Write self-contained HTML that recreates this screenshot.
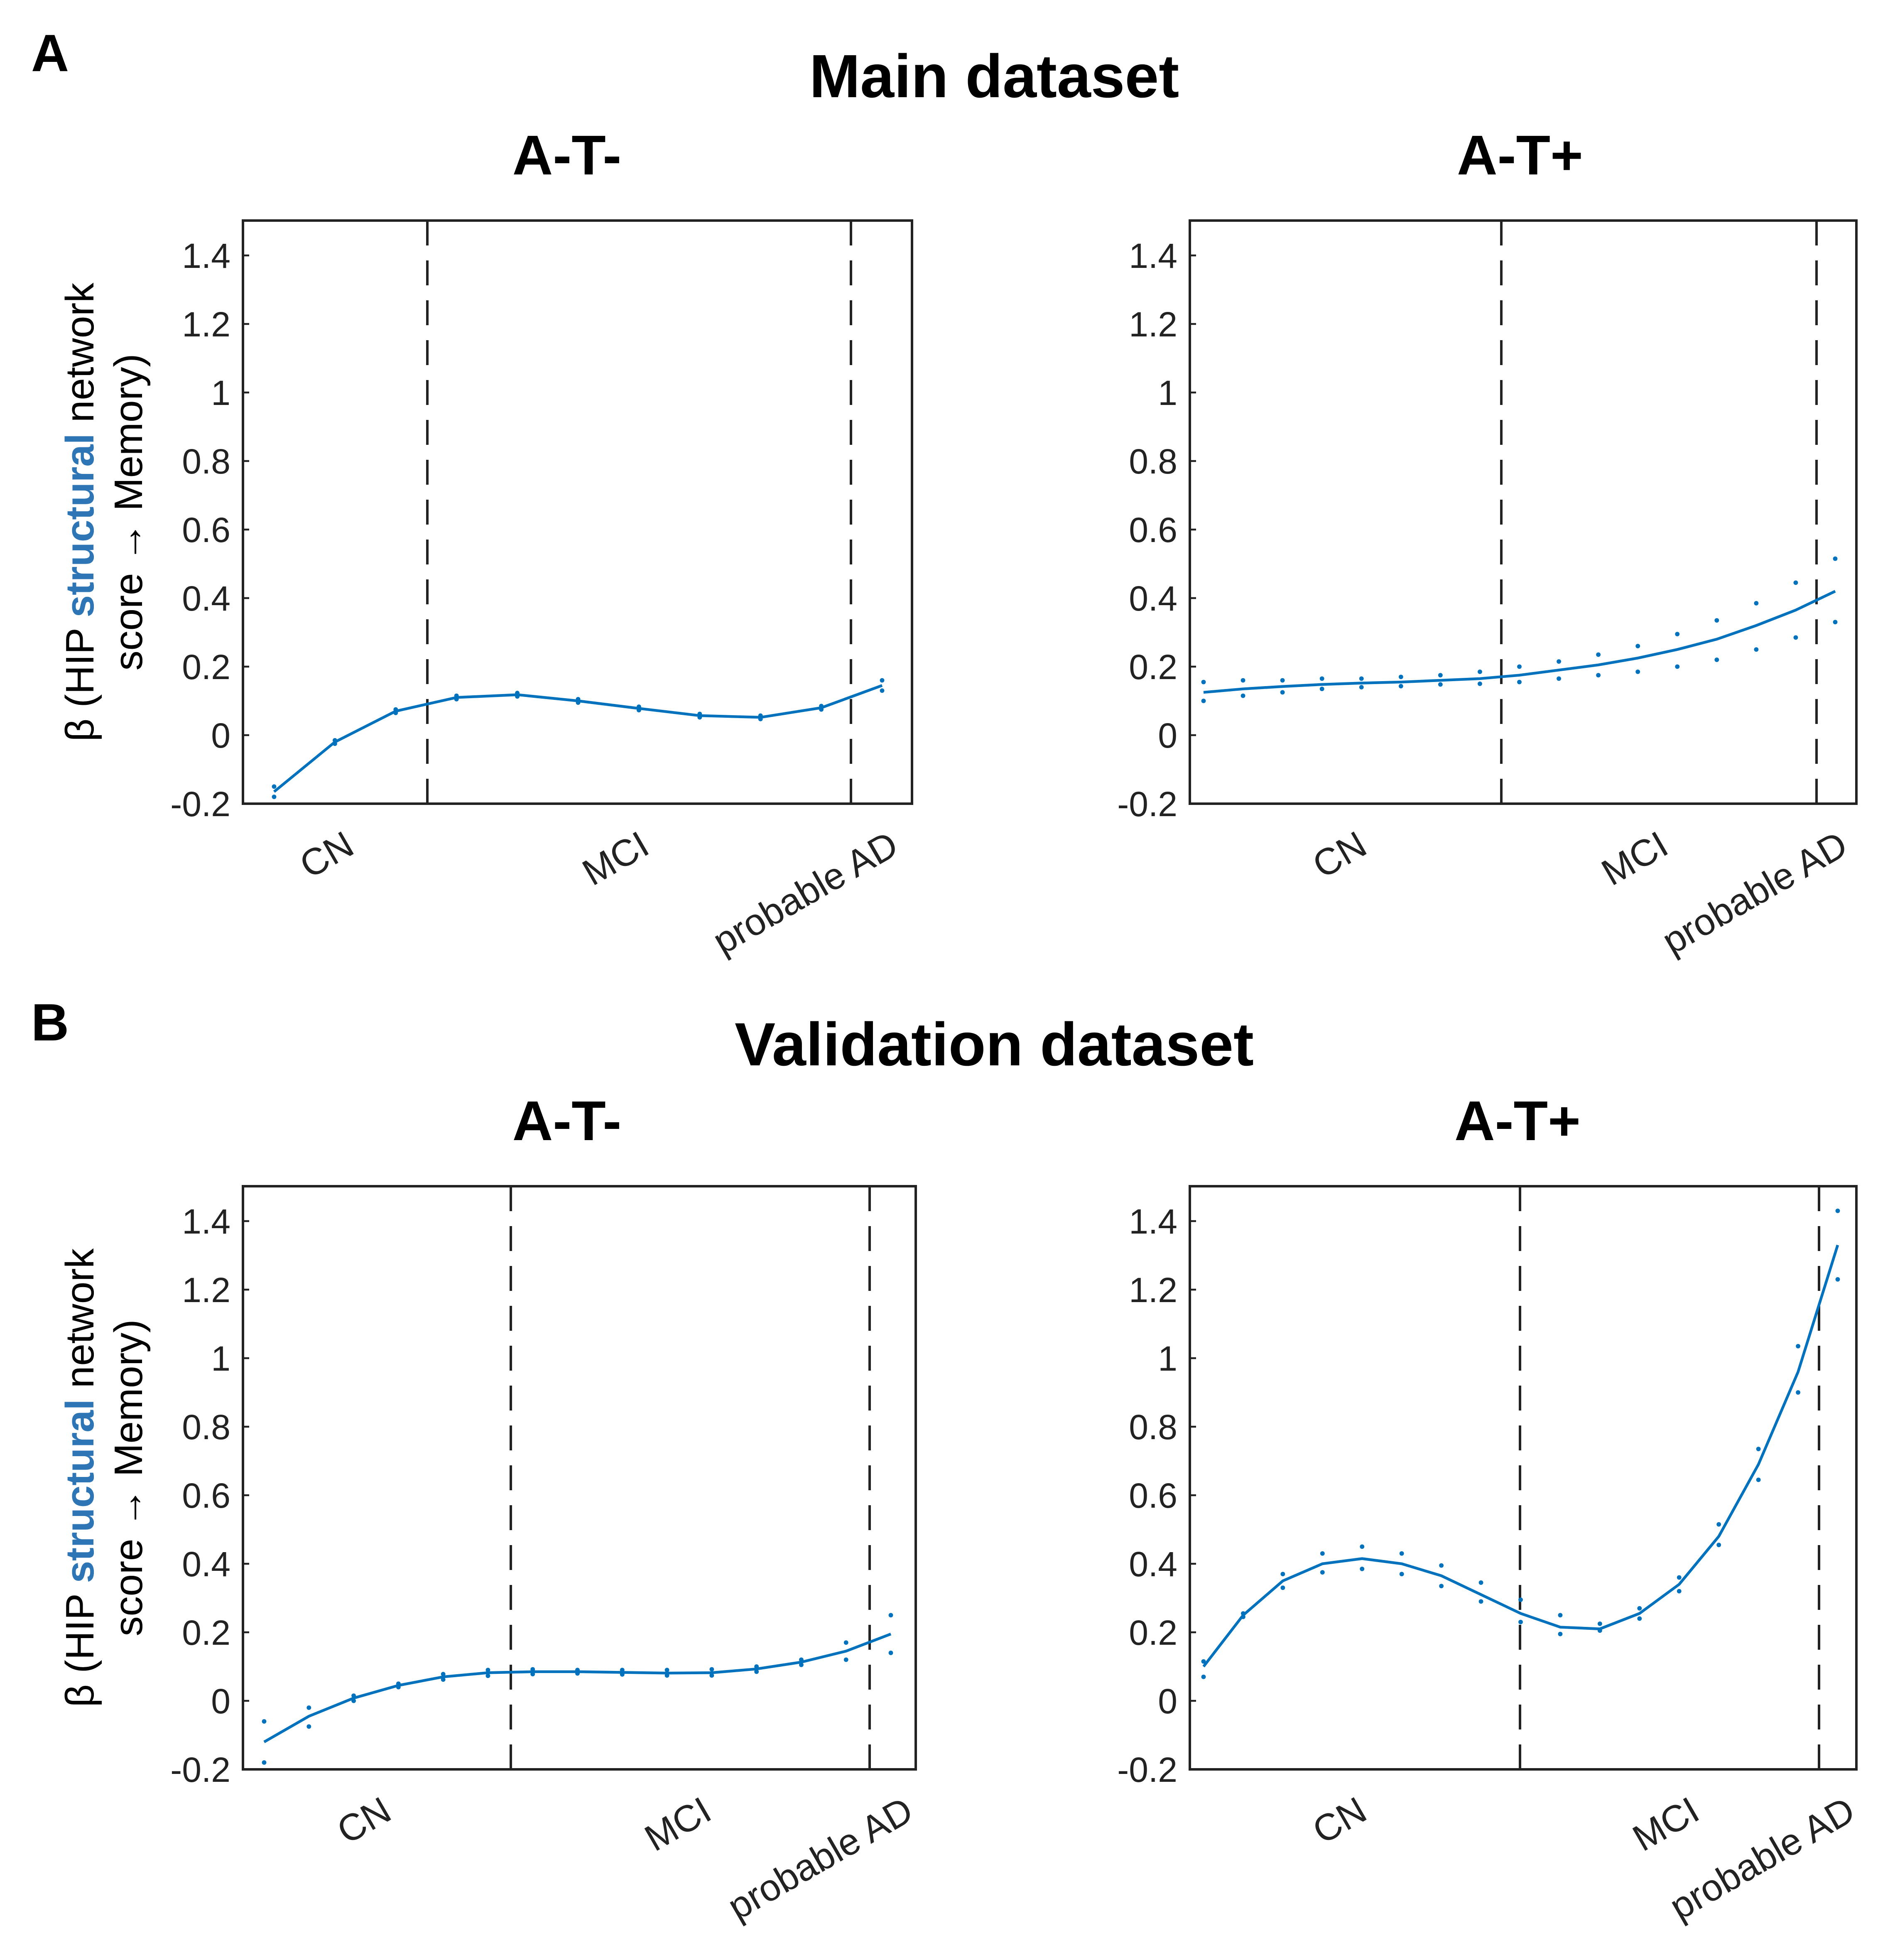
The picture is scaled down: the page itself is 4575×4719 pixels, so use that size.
<!DOCTYPE html>
<html><head><meta charset="utf-8"><style>
html,body{margin:0;padding:0;background:#fff;}
svg{display:block;font-family:"Liberation Sans",Arial,sans-serif;}
</style></head><body>
<svg id="fig" width="4575" height="4719" viewBox="0 0 1525 1573" xmlns="http://www.w3.org/2000/svg">
<text x="25" y="57" font-size="42" font-weight="bold">A</text>
<text x="798" y="78" font-size="49" font-weight="bold" text-anchor="middle">Main dataset</text>
<text x="25" y="835" font-size="42" font-weight="bold">B</text>
<text x="798" y="855" font-size="49" font-weight="bold" text-anchor="middle">Validation dataset</text>
</svg>
<script>
const yTicks=[-0.2,0,0.2,0.4,0.6,0.8,1,1.2,1.4];
const yTickLabels=["-0.2","0","0.2","0.4","0.6","0.8","1","1.2","1.4"];
const xCats=["CN","MCI","probable AD"];
// Panel 1: Main A-T-
const p1Line=[-0.165,-0.02,0.07,0.11,0.118,0.10,0.078,0.057,0.052,0.08,0.145];
const p1Up=[-0.15,-0.015,0.075,0.115,0.123,0.105,0.083,0.062,0.057,0.085,0.16];
const p1Lo=[-0.18,-0.025,0.065,0.105,0.113,0.095,0.073,0.052,0.047,0.075,0.13];
// Panel 2: Main A-T+
const p2Line=[0.125,0.135,0.142,0.148,0.152,0.155,0.16,0.165,0.175,0.19,0.205,0.225,0.25,0.28,0.32,0.365,0.42];
const p2Up=[0.155,0.16,0.16,0.165,0.165,0.17,0.175,0.185,0.2,0.215,0.235,0.26,0.295,0.335,0.385,0.445,0.515];
const p2Lo=[0.1,0.115,0.125,0.135,0.14,0.143,0.148,0.15,0.155,0.165,0.175,0.185,0.2,0.22,0.25,0.285,0.33];
// Panel 3: Validation A-T-
const p3Line=[-0.12,-0.045,0.008,0.045,0.07,0.082,0.085,0.085,0.083,0.081,0.082,0.093,0.113,0.145,0.195];
const p3Up=[-0.06,-0.02,0.015,0.05,0.078,0.09,0.092,0.09,0.09,0.09,0.092,0.1,0.12,0.17,0.25];
const p3Lo=[-0.18,-0.075,0.0,0.04,0.062,0.073,0.078,0.08,0.077,0.074,0.074,0.085,0.105,0.12,0.14];
// Panel 4: Validation A-T+
const p4Line=[0.1,0.25,0.35,0.4,0.415,0.4,0.365,0.31,0.255,0.215,0.21,0.255,0.34,0.48,0.69,0.96,1.33];
const p4Up=[0.115,0.255,0.37,0.43,0.45,0.43,0.395,0.345,0.295,0.25,0.225,0.27,0.36,0.515,0.735,1.035,1.43];
const p4Lo=[0.07,0.245,0.33,0.375,0.385,0.37,0.335,0.29,0.23,0.195,0.205,0.24,0.32,0.455,0.645,0.9,1.23];

const NS="http://www.w3.org/2000/svg";
const svg=document.getElementById('fig');
function mk(tag,attrs,parent){const e=document.createElementNS(NS,tag);for(const k in attrs)e.setAttribute(k,attrs[k]);(parent||svg).appendChild(e);return e;}

const panels=[
 {id:'main-at-neg',title:'A-T-',tx:455,x0:195,x1:732,y0:177,y1:645,zero:590,dash:[343,683],px0:220,px1:708,cats:[275,512,712],line:p1Line,up:p1Up,lo:p1Lo},
 {id:'main-at-pos',title:'A-T+',tx:1220,x0:955,x1:1490,y0:177,y1:645,zero:590,dash:[1205,1458],px0:966,px1:1473,cats:[1088,1330,1474],line:p2Line,up:p2Up,lo:p2Lo},
 {id:'val-at-neg',title:'A-T-',tx:455,x0:195,x1:735,y0:952,y1:1420,zero:1365,dash:[410,698],px0:212,px1:715,cats:[305,562,724],line:p3Line,up:p3Up,lo:p3Lo},
 {id:'val-at-pos',title:'A-T+',tx:1218,x0:955,x1:1490,y0:952,y1:1420,zero:1365,dash:[1220,1460],px0:966,px1:1475,cats:[1088,1355,1480],line:p4Line,up:p4Up,lo:p4Lo}
];
panels.forEach(p=>{
 const g=mk('g',{});
 
 
 const yS=v=>p.zero-v*275;
 const n=p.line.length;
 const xS=i=>p.px0+(p.px1-p.px0)*i/(n-1);
 const t=mk('text',{x:p.tx,y:p.y0-37,'font-size':45,'font-weight':'bold','text-anchor':'middle'},g);
 t.textContent=p.title;
 
 
 const r=mk('rect',{x:p.x0,y:p.y0,width:p.x1-p.x0,height:p.y1-p.y0,fill:'none',stroke:'#222','stroke-width':2},g);
 
 
 yTicks.forEach((v,i)=>{
  const y=yS(v);
  mk('line',{x1:p.x0,x2:p.x0+5,y1:y,y2:y,stroke:'#222','stroke-width':1.5},g);
  const tl=mk('text',{x:p.x0-10,y:y+10,'font-size':28,'text-anchor':'end',fill:'#222'},g);
  tl.textContent=yTickLabels[i];
  
  
 });
 p.dash.forEach(x=>{
  const d=mk('line',{x1:x,x2:x,y1:p.y0,y2:p.y1,stroke:'#222','stroke-width':2,'stroke-dasharray':'20,12'},g);
  
  
 });
 xCats.forEach((c,i)=>{
  const cx=p.cats[i], cy=p.y1+20;
  const tl=mk('text',{x:cx,y:cy,'font-size':30,'text-anchor':'end',fill:'#222',transform:`rotate(-30 ${cx} ${cy}) translate(0 22)`},g);
  tl.textContent=c;
  
  
 });
 const yl=mk('text',{'font-size':32,'text-anchor':'middle',transform:`translate(75 ${(p.y0+p.y1)/2}) rotate(-90)`},g);
 yl.innerHTML='<tspan x="0" y="0">β (HIP <tspan fill="#2e75b6" font-weight="bold">structural</tspan> network</tspan><tspan x="0" y="39">score → Memory)</tspan>';
 
 
 const pts=p.line.map((v,i)=>xS(i)+','+yS(v)).join(' ');
 const pl=mk('polyline',{points:pts,fill:'none',stroke:'#0072bd','stroke-width':2.2},g);
 
 
 [p.up,p.lo].forEach(arr=>arr.forEach((v,i)=>{
  const c=mk('circle',{cx:xS(i),cy:yS(v),r:1.8,fill:'#0072bd'},g);
  
  
 }));
});
</script>
</body></html>
